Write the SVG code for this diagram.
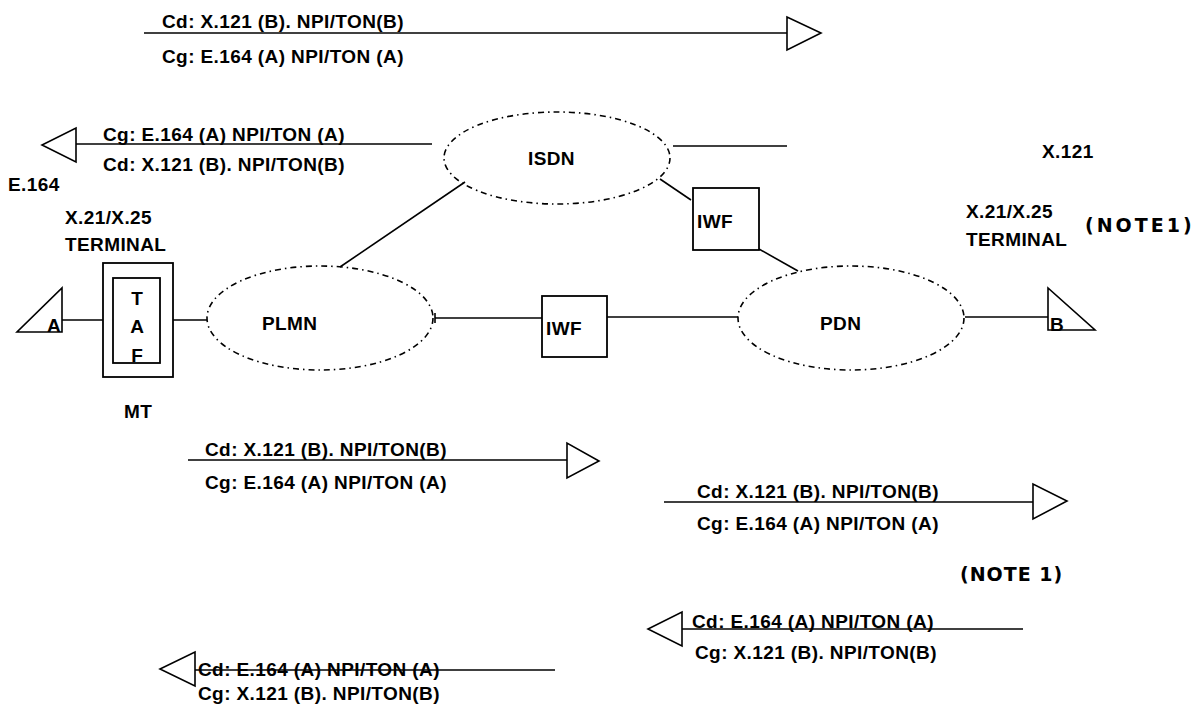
<svg xmlns="http://www.w3.org/2000/svg" width="1201" height="704" viewBox="0 0 1201 704">
<style>
  text { font-family: "Liberation Sans", Arial, sans-serif; font-size: 19px; font-weight: bold; fill: #000; letter-spacing: 0.4px; }
  .hand { font-family: "DejaVu Sans", sans-serif; font-size: 19px; font-weight: bold; letter-spacing: 1px; }
  .ctr { text-anchor: middle; letter-spacing: 0; }
  .ln { stroke: #000; stroke-width: 1.6; fill: none; }
  .box { stroke: #000; stroke-width: 1.8; fill: none; }
  .net { stroke: #000; stroke-width: 1.6; fill: none; stroke-dasharray: 6 4 1.5 4; }
  .tri { stroke: #000; stroke-width: 1.6; fill: #fff; stroke-linejoin: miter; }
</style>
<rect width="1201" height="704" fill="#fff"/>

<g id="connectors">
  <line class="ln" x1="62" y1="320" x2="103" y2="320"/>
  <line class="ln" x1="173" y1="320" x2="207" y2="320"/>
  <line class="ln" x1="465" y1="182" x2="340" y2="267"/>
  <line class="ln" x1="435" y1="318" x2="542" y2="318"/>
  <line class="ln" x1="435" y1="313" x2="435" y2="323"/>
  <line class="ln" x1="607" y1="317" x2="738" y2="317"/>
  <line class="ln" x1="660" y1="179" x2="691" y2="200"/>
  <line class="ln" x1="759" y1="249" x2="798" y2="271"/>
  <line class="ln" x1="673" y1="146" x2="787" y2="146"/>
  <line class="ln" x1="965" y1="317" x2="1048" y2="317"/>
</g>

<g id="arrow-top">
  <line class="ln" x1="144" y1="33" x2="787" y2="33"/>
  <polygon class="tri" points="787,17 787,50 821,33"/>
  <text x="162" y="28">Cd: X.121 (B). NPI/TON(B)</text>
  <text x="162" y="63">Cg: E.164 (A) NPI/TON (A)</text>
</g>

<g id="arrow-left-top">
  <line class="ln" x1="76" y1="144" x2="432" y2="144"/>
  <polygon class="tri" points="76,128 76,162 42,145"/>
  <text x="103" y="141">Cg: E.164 (A) NPI/TON (A)</text>
  <text x="103" y="171">Cd: X.121 (B). NPI/TON(B)</text>
</g>

<g id="labels-left">
  <text x="8" y="191">E.164</text>
  <text x="65" y="224">X.21/X.25</text>
  <text x="65" y="251">TERMINAL</text>
  <text x="124" y="418">MT</text>
</g>

<g id="terminal-A">
  <polygon class="tri" points="62,288 62,332 17,332"/>
  <text x="47" y="332">A</text>
</g>

<g id="mt-taf">
  <rect class="box" x="103" y="263" width="70" height="114"/>
  <rect class="box" x="113" y="278" width="47" height="85"/>
  <text class="ctr" x="137" y="305">T</text>
  <text class="ctr" x="137" y="333">A</text>
  <text class="ctr" x="137" y="362">F</text>
</g>

<g id="plmn">
  <ellipse class="net" cx="320" cy="318" rx="113" ry="52"/>
  <text x="262" y="330">PLMN</text>
</g>

<g id="isdn">
  <ellipse class="net" cx="557" cy="158" rx="113" ry="46"/>
  <text x="528" y="165">ISDN</text>
</g>

<g id="iwf-lower">
  <rect class="box" x="542" y="296" width="65" height="61"/>
  <text x="546" y="335">IWF</text>
</g>

<g id="iwf-upper">
  <rect class="box" x="693" y="188" width="66" height="62"/>
  <text x="697" y="228">IWF</text>
</g>

<g id="pdn">
  <ellipse class="net" cx="851" cy="318" rx="113" ry="52"/>
  <text x="820" y="330">PDN</text>
</g>

<g id="terminal-B">
  <polygon class="tri" points="1048,288 1048,330 1095,330"/>
  <text x="1050" y="331">B</text>
</g>

<g id="labels-right">
  <text x="1042" y="158">X.121</text>
  <text x="966" y="218">X.21/X.25</text>
  <text x="966" y="246">TERMINAL</text>
  <text class="hand" x="1085" y="232" style="letter-spacing:3px">(NOTE1)</text>
</g>

<g id="arrow-mid-left">
  <line class="ln" x1="188" y1="460" x2="567" y2="460"/>
  <polygon class="tri" points="567,443 567,478 599,461"/>
  <text x="205" y="456">Cd: X.121 (B). NPI/TON(B)</text>
  <text x="205" y="489">Cg: E.164 (A) NPI/TON (A)</text>
</g>

<g id="arrow-mid-right">
  <line class="ln" x1="664" y1="502" x2="1033" y2="502"/>
  <polygon class="tri" points="1033,484 1033,519 1067,501"/>
  <text x="697" y="498">Cd: X.121 (B). NPI/TON(B)</text>
  <text x="697" y="530">Cg: E.164 (A) NPI/TON (A)</text>
</g>

<text class="hand" x="960" y="581">(NOTE 1)</text>

<g id="arrow-bottom-right">
  <line class="ln" x1="682" y1="629" x2="1023" y2="629"/>
  <polygon class="tri" points="682,612 682,646 648,629"/>
  <text x="692" y="628">Cd: E.164 (A) NPI/TON (A)</text>
  <text x="695" y="659">Cg: X.121 (B). NPI/TON(B)</text>
</g>

<g id="arrow-bottom-left">
  <line class="ln" x1="195" y1="670" x2="555" y2="670"/>
  <polygon class="tri" points="195,652 195,686 160,669"/>
  <text x="198" y="676">Cd: E.164 (A) NPI/TON (A)</text>
  <text x="198" y="700">Cg: X.121 (B). NPI/TON(B)</text>
</g>
</svg>
